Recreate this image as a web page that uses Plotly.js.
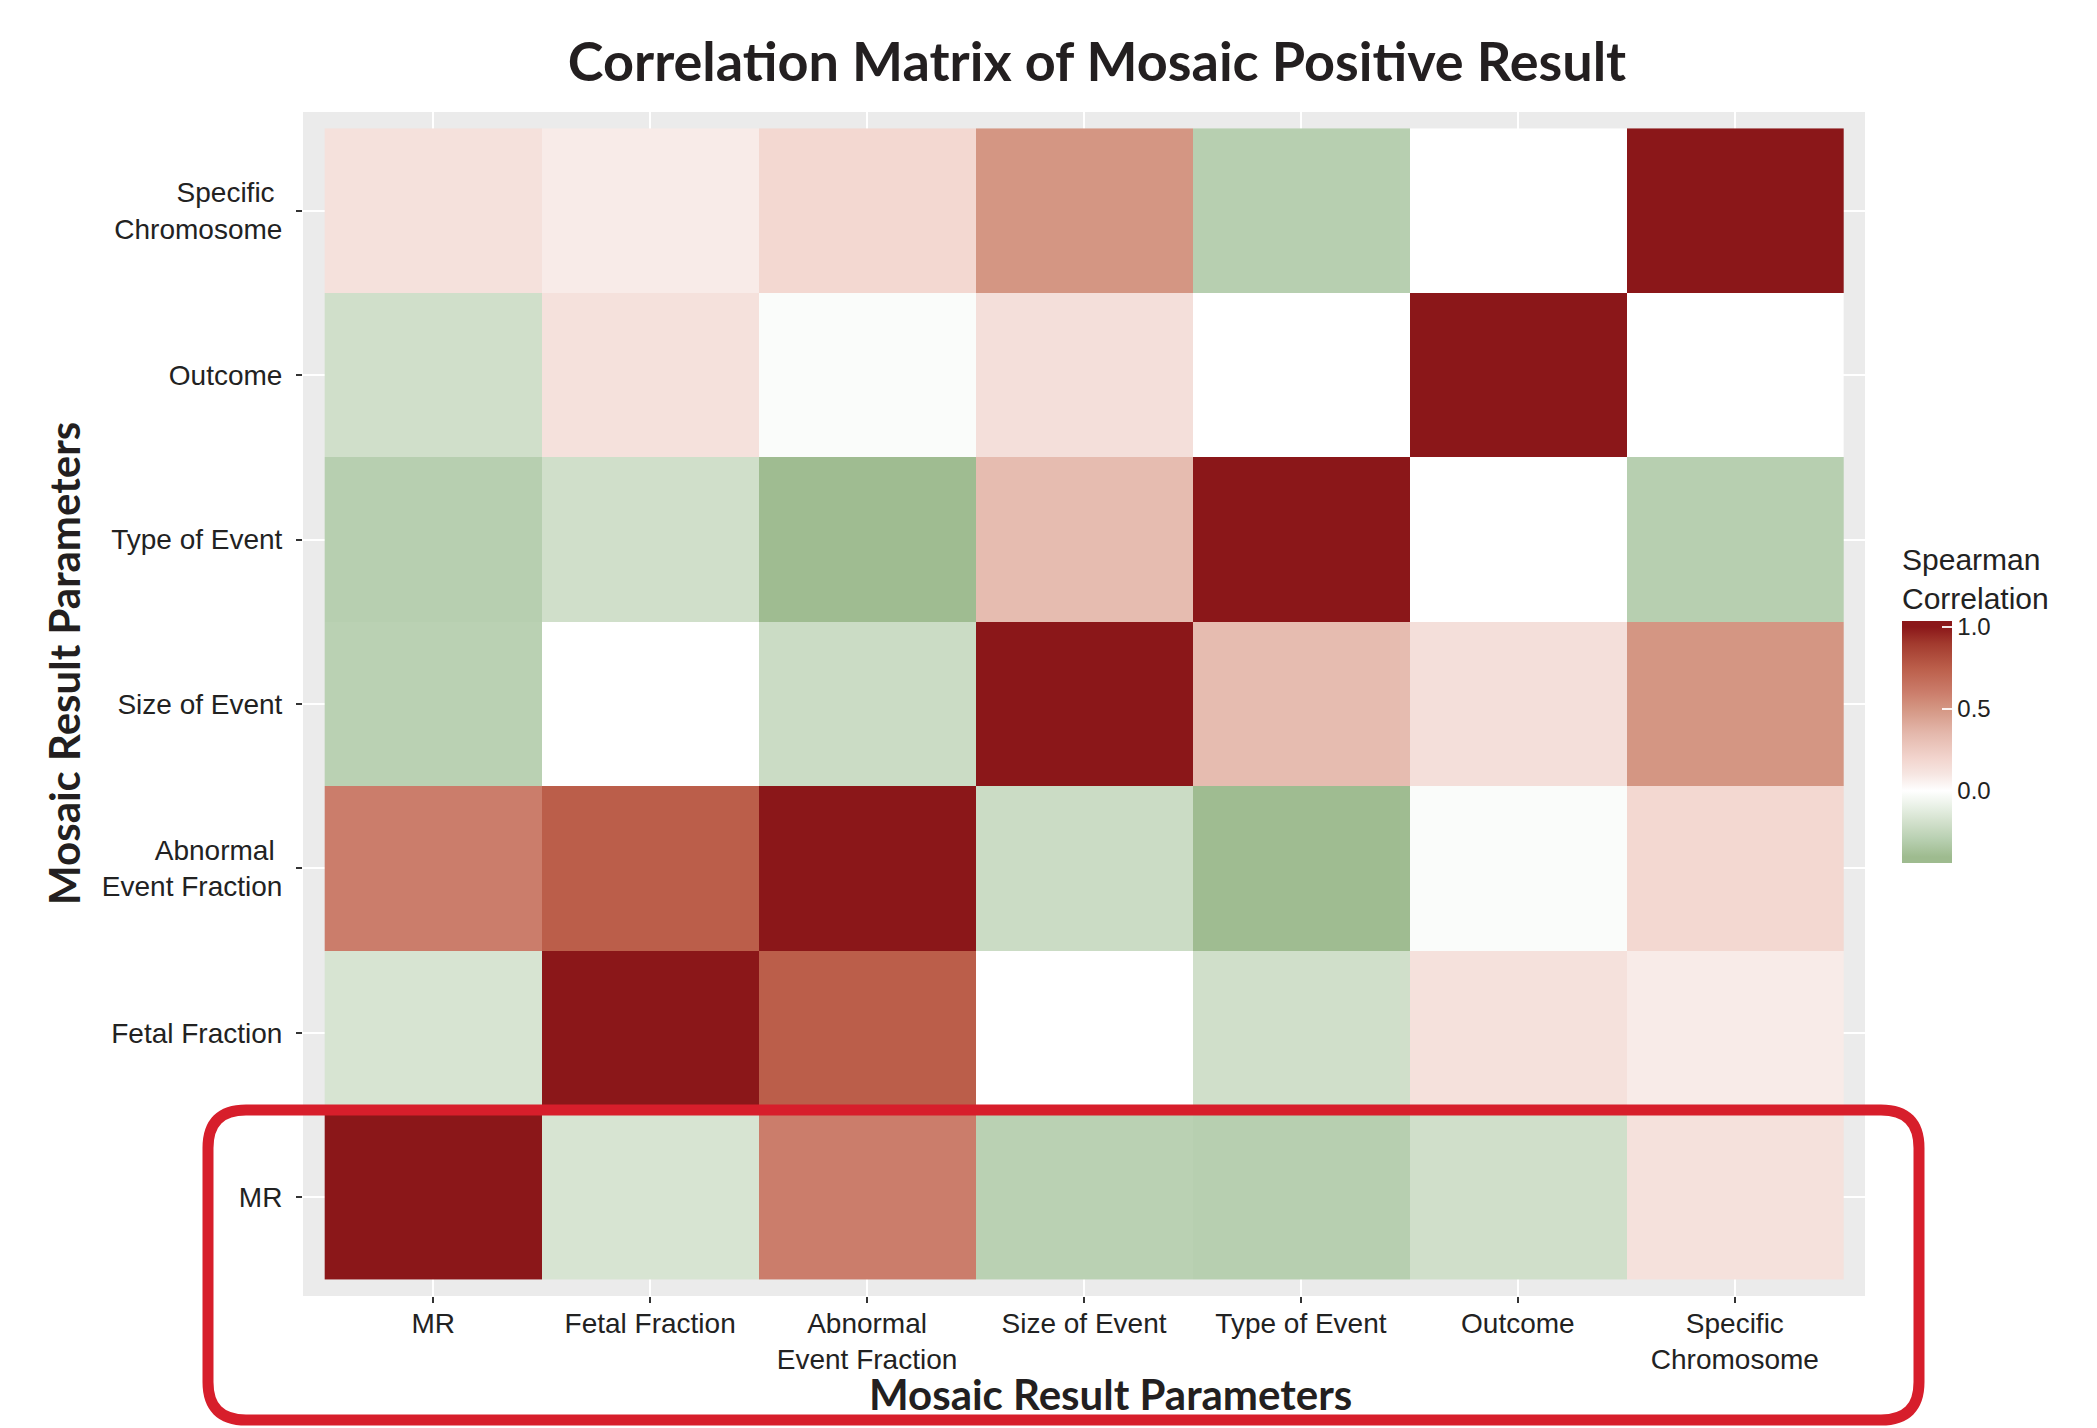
<!DOCTYPE html>
<html><head><meta charset="utf-8">
<script src="https://cdn.plot.ly/plotly-3.0.1.min.js"></script>
<style>html,body{margin:0;padding:0;background:#fff;} #chart{width:2097px;height:1428px;}</style>
</head><body><div id="chart"></div>
<script>
// ---- data ----
const params = ["MR", "Fetal Fraction", "Abnormal Event Fraction", "Size of Event", "Type of Event", "Outcome", "Specific Chromosome"];
const xTickText = ["MR", "Fetal Fraction", "Abnormal<br>Event Fraction", "Size of Event", "Type of Event", "Outcome", "Specific<br>Chromosome"];
const yTickText = ["MR", "Fetal Fraction", "Abnormal\u00a0<br>Event Fraction", "Size of Event", "Type of Event", "Outcome", "Specific\u00a0<br>Chromosome"];
const axisTitleText = "Mosaic Result Parameters";
// rows follow params order (bottom to top), columns follow params order (left to right)
const rowMR        = [ 1.00, -0.17,  0.60, -0.29, -0.30, -0.20,  0.13];
const rowFetal     = [-0.17,  1.00,  0.75,  0.00, -0.20,  0.13,  0.08];
const rowAbnormal  = [ 0.60,  0.75,  1.00, -0.22, -0.40, -0.02,  0.18];
const rowSize      = [-0.29,  0.00, -0.22,  1.00,  0.33,  0.14,  0.50];
const rowType      = [-0.30, -0.20, -0.40,  0.33,  1.00,  0.00, -0.30];
const rowOutcome   = [-0.20,  0.13, -0.02,  0.14,  0.00,  1.00,  0.00];
const rowChrom     = [ 0.13,  0.08,  0.18,  0.50, -0.30,  0.00,  1.00];
const cbTickVals = [0, 0.5, 1];
const cbTickText = ["0.0", "0.5", "1.0"];
// colour scale anchors (value -> colour)
const scaleVals   = [-0.405, -0.3, -0.2, -0.1, 0, 0.1, 0.2, 0.35, 0.5, 0.6, 0.75, 0.9, 1.0];
const scaleColors = ['#9EBB8F','#B7CFB0','#D0DFCA','#E8F0E5','#FFFFFF','#F6E6E2','#F2D4CD','#E4B8AC','#D49683','#CB7D6B','#BB5E4A','#A23A2E','#8B1719'];

// data limits, and the colour bar padded by half a bin at each end (like a binned legend bar)
const zLo = -0.405, zHi = 1.0;
const halfBin = (zHi - zLo) / 38;
const cLo = zLo - halfBin, cHi = zHi + halfBin;
const norm = v => (v - cLo) / (cHi - cLo);
const colorscale = [[0, scaleColors[0]]]
  .concat(scaleVals.map((v, i) => [norm(v), scaleColors[i]]))
  .concat([[1, scaleColors[scaleColors.length - 1]]]);
const zData = [rowMR, rowFetal, rowAbnormal, rowSize, rowType, rowOutcome, rowChrom];

// ---- geometry ----
const W = 2097, H = 1428;
const M = {l: 303, r: 232, t: 112, b: 132};
const PW = W - M.l - M.r, PH = H - M.t - M.b;
const px = X => (X - M.l) / PW;
const py = Y => (H - M.b - Y) / PH;

// rounded highlight box (pixel geometry converted to paper coords)
function roundRect(x0, y0, x1, y1, r) {
  const f = (X, Y) => px(X).toFixed(5) + ',' + py(Y).toFixed(5);
  return 'M' + f(x0 + r, y0) + ' L' + f(x1 - r, y0) + ' Q' + f(x1, y0) + ' ' + f(x1, y0 + r) +
         ' L' + f(x1, y1 - r) + ' Q' + f(x1, y1) + ' ' + f(x1 - r, y1) +
         ' L' + f(x0 + r, y1) + ' Q' + f(x0, y1) + ' ' + f(x0, y1 - r) +
         ' L' + f(x0, y0 + r) + ' Q' + f(x0, y0) + ' ' + f(x0 + r, y0) + ' Z';
}

const tickFont = {family: 'Liberation Sans, Arial, sans-serif', size: 28, color: '#222222'};
const titleFont = {family: 'Lato, sans-serif', size: 42, weight: 700, color: '#231f20'};

const trace = {
  type: 'heatmap',
  x: params, y: params, z: zData,
  zmin: cLo, zmax: cHi,
  colorscale: colorscale,
  xgap: 0, ygap: 0,
  colorbar: {
    title: {text: 'Spearman<br>Correlation', side: 'top', font: {family: 'Liberation Sans, Arial, sans-serif', size: 30, color: '#222222'}},
    x: px(1902), xanchor: 'left', xpad: 0,
    y: py(863), yanchor: 'bottom', ypad: 0,
    len: 863 - 544, lenmode: 'pixels',
    thickness: 50, thicknessmode: 'pixels',
    outlinewidth: 0,
    tickmode: 'array', tickvals: cbTickVals, ticktext: cbTickText,
    ticks: 'inside', ticklen: 10, tickwidth: 1.5, tickcolor: 'rgba(255,255,255,0.9)',
    tickfont: {family: 'Liberation Sans, Arial, sans-serif', size: 24, color: '#222222'}
  }
};

const axisCommon = {
  type: 'category',
  categoryorder: 'array', categoryarray: params,
  tickmode: 'array', tickvals: params,
  range: [-0.6, 6.6],
  showgrid: true, gridcolor: '#FFFFFF', gridwidth: 2,
  zeroline: false, showline: false,
  ticks: 'outside', ticklen: 6, tickwidth: 2, tickcolor: '#333333',
  tickfont: tickFont,
  automargin: false, fixedrange: true
};

const layout = {
  width: W, height: H,
  margin: M,
  paper_bgcolor: '#FFFFFF', plot_bgcolor: '#EBEBEB',
  title: {text: 'Correlation Matrix of Mosaic Positive Result', font: {family: 'Lato, sans-serif', size: 54, weight: 700, color: '#231f20'},
          x: px(1097), xref: 'paper', xanchor: 'center', y: 1 - 62 / H, yref: 'container', yanchor: 'middle'},
  xaxis: Object.assign({}, axisCommon, {ticktext: xTickText, ticklabelstandoff: -4}),
  yaxis: Object.assign({}, axisCommon, {ticktext: yTickText, ticklabelstandoff: 8}),
  annotations: [
    {text: axisTitleText, font: titleFont, showarrow: false, xref: 'paper', yref: 'paper',
     x: px(1110), y: py(1394), xanchor: 'center', yanchor: 'middle'},
    {text: axisTitleText, font: titleFont, showarrow: false, xref: 'paper', yref: 'paper', textangle: -90,
     x: px(64), y: py(664), xanchor: 'center', yanchor: 'middle'}
  ],
  shapes: [{
    type: 'path', xref: 'paper', yref: 'paper',
    path: roundRect(208, 1110, 1919, 1420, 38),
    line: {color: '#D71E2B', width: 11}, fillcolor: 'rgba(0,0,0,0)', layer: 'above'
  }]
};

Plotly.newPlot('chart', [trace], layout, {displayModeBar: false, staticPlot: true});
</script></body></html>
